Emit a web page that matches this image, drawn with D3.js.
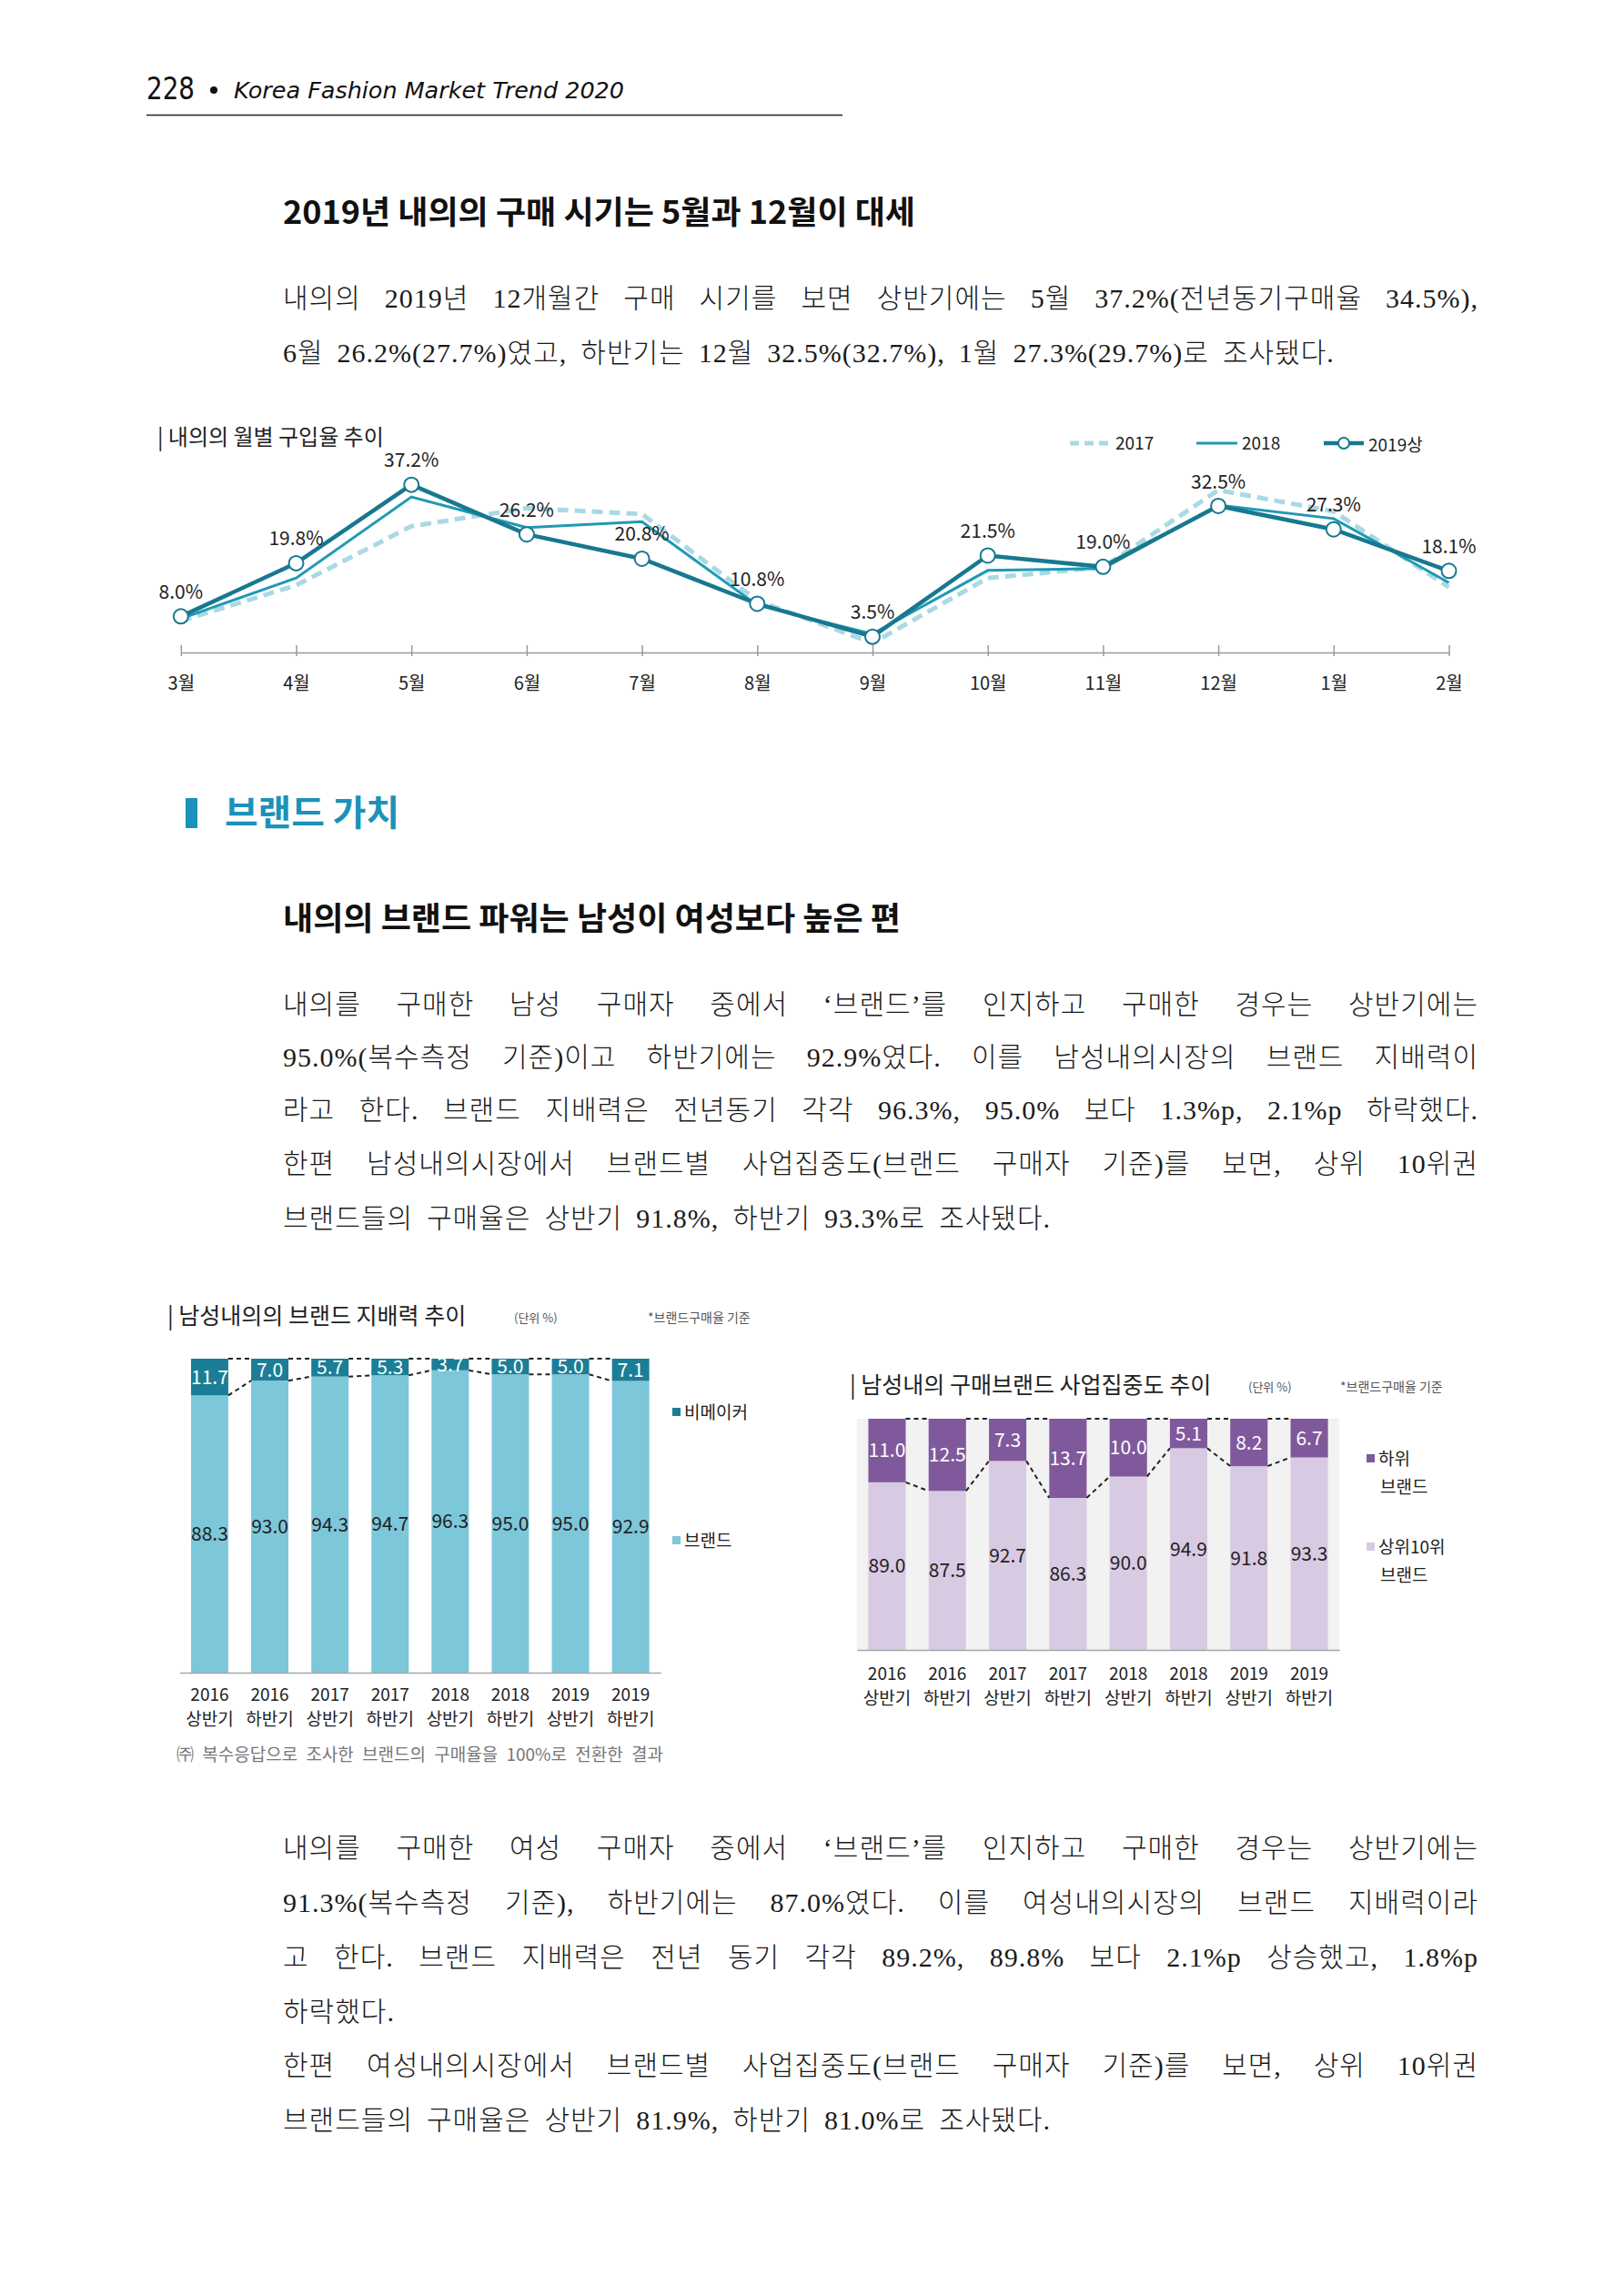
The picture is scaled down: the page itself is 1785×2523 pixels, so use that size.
<!DOCTYPE html>
<html>
<head>
<meta charset="utf-8">
<script src="https://cdn.jsdelivr.net/npm/d3@7"></script>
<style>
  body { margin: 0; background: #fff; }
  svg { display: block; }
</style>
</head>
<body>
<svg id="page"></svg>
<script>
// ---- data ----
const months = ["3월", "4월", "5월", "6월", "7월", "8월", "9월", "10월", "11월", "12월", "1월", "2월"];
const rate2017 = [7.0, 14.9, 28.0, 32.0, 30.7, 11.5, 2.1, 16.5, 18.9, 36.0, 31.3, 14.5];
const rate2018 = [7.5, 16.5, 34.5, 27.7, 29.0, 10.5, 4.1, 18.2, 18.6, 32.7, 29.7, 15.5];
const rate2019 = [8.0, 19.8, 37.2, 26.2, 20.8, 10.8, 3.5, 21.5, 19.0, 32.5, 27.3, 18.1];

const periodYears = ["2016", "2016", "2017", "2017", "2018", "2018", "2019", "2019"];
const periodHalves = ["상반기", "하반기", "상반기", "하반기", "상반기", "하반기", "상반기", "하반기"];

const brandShare = [88.3, 93.0, 94.3, 94.7, 96.3, 95.0, 95.0, 92.9];
const nonMakerShare = [11.7, 7.0, 5.7, 5.3, 3.7, 5.0, 5.0, 7.1];

const top10Share = [89.0, 87.5, 92.7, 86.3, 90.0, 94.9, 91.8, 93.3];
const lowerShare = [11.0, 12.5, 7.3, 13.7, 10.0, 5.1, 8.2, 6.7];

const para1 = [
  "내의의 2019년 12개월간 구매 시기를 보면 상반기에는 5월 37.2%(전년동기구매율 34.5%),",
  "6월 26.2%(27.7%)였고, 하반기는 12월 32.5%(32.7%), 1월 27.3%(29.7%)로 조사됐다."
];
const para2 = [
  "내의를 구매한 남성 구매자 중에서 ‘브랜드’를 인지하고 구매한 경우는 상반기에는",
  "95.0%(복수측정 기준)이고 하반기에는 92.9%였다. 이를 남성내의시장의 브랜드 지배력이",
  "라고 한다. 브랜드 지배력은 전년동기 각각 96.3%, 95.0% 보다 1.3%p, 2.1%p 하락했다.",
  "한편 남성내의시장에서 브랜드별 사업집중도(브랜드 구매자 기준)를 보면, 상위 10위권",
  "브랜드들의 구매율은 상반기 91.8%, 하반기 93.3%로 조사됐다."
];
const para3 = [
  "내의를 구매한 여성 구매자 중에서 ‘브랜드’를 인지하고 구매한 경우는 상반기에는",
  "91.3%(복수측정 기준), 하반기에는 87.0%였다. 이를 여성내의시장의 브랜드 지배력이라",
  "고 한다. 브랜드 지배력은 전년 동기 각각 89.2%, 89.8% 보다 2.1%p 상승했고, 1.8%p",
  "하락했다.",
  "한편 여성내의시장에서 브랜드별 사업집중도(브랜드 구매자 기준)를 보면, 상위 10위권",
  "브랜드들의 구매율은 상반기 81.9%, 하반기 81.0%로 조사됐다."
];

const KR = "'Noto Sans CJK KR', 'Noto Sans', sans-serif";
const BODY = "'Liberation Serif', 'Noto Sans CJK KR', serif";

const svg = d3.select("#page").attr("width", 1785).attr("height", 2523);
svg.append("rect").attr("width", 1785).attr("height", 2523).attr("fill", "#fff");

// ---- page header ----
svg.append("text").attr("x", 161).attr("y", 109)
  .attr("font-family", "'Liberation Sans Narrow', 'DejaVu Sans', sans-serif")
  .attr("font-size", 33).attr("fill", "#111")
  .attr("textLength", 53).attr("lengthAdjust", "spacingAndGlyphs").text("228");
svg.append("circle").attr("cx", 235).attr("cy", 99).attr("r", 4).attr("fill", "#111");
svg.append("text").attr("x", 257).attr("y", 108)
  .attr("font-family", "'DejaVu Sans', sans-serif").attr("font-style", "italic")
  .attr("font-size", 25).attr("fill", "#111")
  .attr("textLength", 429).attr("lengthAdjust", "spacingAndGlyphs")
  .text("Korea Fashion Market Trend 2020");
svg.append("line").attr("x1", 161).attr("x2", 926).attr("y1", 126.5).attr("y2", 126.5)
  .attr("stroke", "#222").attr("stroke-width", 1.6);

// ---- headings ----
function heading(str, y, w) {
  svg.append("text").attr("x", 311).attr("y", y).attr("dy", "0.36em")
    .attr("font-family", KR).attr("font-weight", 700).attr("font-size", 35)
    .attr("textLength", w).attr("lengthAdjust", "spacingAndGlyphs")
    .attr("fill", "#111").text(str);
}
heading("2019년 내의의 구매 시기는 5월과 12월이 대세", 233, 695);
heading("내의의 브랜드 파워는 남성이 여성보다 높은 편", 1009, 679);

svg.append("rect").attr("x", 204).attr("y", 877).attr("width", 13).attr("height", 33).attr("fill", "#1a92b9");
svg.append("text").attr("x", 247).attr("y", 893).attr("dy", "0.36em")
  .attr("font-family", KR).attr("font-weight", 700).attr("font-size", 39)
  .attr("textLength", 192).attr("lengthAdjust", "spacingAndGlyphs")
  .attr("fill", "#1a92b9").text("브랜드 가치");

// ---- body paragraphs (word-justified lines) ----
function paragraph(lines, ys, justifyFlags) {
  const g = svg.append("g").attr("font-family", BODY).attr("font-size", 30)
    .attr("letter-spacing", 1).attr("font-weight", 300).attr("fill", "#1a1a1a");
  lines.forEach((str, li) => {
    const words = str.split(" ").filter(w => w.length);
    const nodes = words.map(w => g.append("text").attr("y", ys[li]).attr("dy", "0.36em").text(w));
    const widths = nodes.map(n => n.node().getComputedTextLength());
    const total = d3.sum(widths);
    const gap = justifyFlags[li] && words.length > 1 ? (1625 - 311 - total) / (words.length - 1) : 15;
    let cx = 311;
    nodes.forEach((n, i) => { n.attr("x", cx); cx += widths[i] + gap; });
  });
}
paragraph(para1, [327, 387], [true, false]);
paragraph(para2, [1103, 1161, 1219, 1278, 1338], [true, true, true, true, false]);
paragraph(para3, [2030, 2090, 2150, 2210, 2269, 2329], [true, true, true, false, true, false]);

// ---- line chart ----
const lc = svg.append("g");
const x = d3.scalePoint().domain(months).range([198.8, 1592.5]);
const y = d3.scaleLinear().domain([0, 40]).range([717, 518.8]);

lc.append("text").attr("x", 173).attr("y", 480).attr("dy", "0.36em")
  .attr("font-family", KR).attr("font-size", 24).attr("fill", "#222").text("| 내의의 월별 구입율 추이");

const axis = lc.append("g").attr("transform", "translate(0,717)")
  .call(d3.axisBottom(x).tickSizeInner(-8).tickSizeOuter(0).tickPadding(27));
axis.select(".domain").attr("stroke", "#9a9a9a").attr("stroke-width", 1.5);
axis.selectAll(".tick line").attr("stroke", "#9a9a9a").attr("stroke-width", 1.5)
  .attr("y1", 4);
axis.selectAll(".tick text").attr("font-family", KR).attr("font-size", 20).attr("fill", "#222");

const line = d3.line().x((d, i) => x(months[i])).y(d => y(d));
lc.append("path").datum(rate2017).attr("d", line).attr("fill", "none")
  .attr("stroke", "#a9d9e4").attr("stroke-width", 5).attr("stroke-dasharray", "12,7");
lc.append("path").datum(rate2018).attr("d", line).attr("fill", "none")
  .attr("stroke", "#1e9ab4").attr("stroke-width", 3);
lc.append("path").datum(rate2019).attr("d", line).attr("fill", "none")
  .attr("stroke", "#17788f").attr("stroke-width", 4.5);
lc.selectAll("circle.p19").data(rate2019).enter().append("circle")
  .attr("class", "p19")
  .attr("cx", (d, i) => x(months[i])).attr("cy", d => y(d)).attr("r", 8)
  .attr("fill", "#fff").attr("stroke", "#17788f").attr("stroke-width", 2);
lc.selectAll("text.lbl").data(rate2019).enter().append("text")
  .attr("class", "lbl")
  .attr("x", (d, i) => x(months[i])).attr("y", d => y(d) - 27).attr("dy", "0.36em")
  .attr("text-anchor", "middle").attr("font-family", KR).attr("font-size", 21)
  .attr("fill", "#222").text(d => d.toFixed(1) + "%");

// legend
const lg = lc.append("g").attr("font-family", KR).attr("font-size", 19).attr("fill", "#222");
lg.append("line").attr("x1", 1176).attr("x2", 1218).attr("y1", 487).attr("y2", 487)
  .attr("stroke", "#a9d9e4").attr("stroke-width", 5).attr("stroke-dasharray", "10,6");
lg.append("text").attr("x", 1226).attr("y", 487).attr("dy", "0.36em").text("2017");
lg.append("line").attr("x1", 1315).attr("x2", 1360).attr("y1", 487).attr("y2", 487)
  .attr("stroke", "#1e9ab4").attr("stroke-width", 3);
lg.append("text").attr("x", 1365).attr("y", 487).attr("dy", "0.36em").text("2018");
lg.append("line").attr("x1", 1455).attr("x2", 1499).attr("y1", 487).attr("y2", 487)
  .attr("stroke", "#17788f").attr("stroke-width", 4.5);
lg.append("circle").attr("cx", 1477).attr("cy", 487).attr("r", 6)
  .attr("fill", "#fff").attr("stroke", "#17788f").attr("stroke-width", 2);
lg.append("text").attr("x", 1504).attr("y", 489).attr("dy", "0.36em").text("2019상");

// ---- stacked bar charts ----
function stackedChart(opt) {
  const g = svg.append("g");
  const periods = periodYears.map((yr, i) => yr + " " + periodHalves[i]);
  const xb = d3.scaleBand().domain(periods).range(opt.xRange).paddingInner(0.38).paddingOuter(0.19);
  const yb = d3.scaleLinear().domain(opt.yDomain).range(opt.yRange);
  const bw = xb.bandwidth();

  if (opt.panel) {
    g.append("rect").attr("x", opt.xRange[0]).attr("y", yb(100))
      .attr("width", opt.xRange[1] - opt.xRange[0]).attr("height", yb(opt.yDomain[0]) - yb(100))
      .attr("fill", opt.panel);
  }

  // lower segments
  g.selectAll("rect.low").data(opt.low).enter().append("rect").attr("class", "low")
    .attr("x", (d, i) => xb(periods[i])).attr("width", bw)
    .attr("y", d => yb(d)).attr("height", d => yb(opt.yDomain[0]) - yb(d))
    .attr("fill", opt.lowColor);
  // upper segments
  g.selectAll("rect.up").data(opt.up).enter().append("rect").attr("class", "up")
    .attr("x", (d, i) => xb(periods[i])).attr("width", bw)
    .attr("y", (d, i) => yb(opt.low[i] + d)).attr("height", (d, i) => yb(opt.low[i]) - yb(opt.low[i] + d))
    .attr("fill", opt.upColor);

  // dashed connectors
  const conn = d3.range(opt.low.length - 1);
  g.selectAll("line.ctop").data(conn).enter().append("line").attr("class", "ctop")
    .attr("x1", i => xb(periods[i]) + bw).attr("x2", i => xb(periods[i + 1]))
    .attr("y1", yb(100)).attr("y2", yb(100))
    .attr("stroke", "#222").attr("stroke-width", 2).attr("stroke-dasharray", "5,4");
  g.selectAll("line.cmid").data(conn).enter().append("line").attr("class", "cmid")
    .attr("x1", i => xb(periods[i]) + bw).attr("x2", i => xb(periods[i + 1]))
    .attr("y1", i => yb(opt.low[i])).attr("y2", i => yb(opt.low[i + 1]))
    .attr("stroke", "#222").attr("stroke-width", 2).attr("stroke-dasharray", "5,4");

  // baseline axis
  const ax = g.append("g").attr("transform", `translate(0,${yb(opt.yDomain[0])})`)
    .call(d3.axisBottom(xb).tickSize(0).tickPadding(0).tickFormat(""));
  ax.select(".domain").attr("stroke", "#a6a6a6").attr("stroke-width", 1.5);
  ax.selectAll(".tick").each(function(d, i) {
    const t = d3.select(this);
    t.append("text").attr("y", opt.labelY[0] - yb(opt.yDomain[0])).attr("dy", "0.36em")
      .attr("font-family", KR).attr("font-size", 19).attr("fill", "#222").text(periodYears[i]);
    t.append("text").attr("y", opt.labelY[1] - yb(opt.yDomain[0])).attr("dy", "0.36em")
      .attr("font-family", KR).attr("font-size", 19).attr("fill", "#222").text(periodHalves[i]);
  });

  // value labels
  g.selectAll("text.vlow").data(opt.low).enter().append("text").attr("class", "vlow")
    .attr("x", (d, i) => xb(periods[i]) + bw / 2)
    .attr("y", d => (yb(d) + yb(opt.yDomain[0])) / 2).attr("dy", "0.36em")
    .attr("text-anchor", "middle").attr("font-family", KR).attr("font-size", 21)
    .attr("fill", "#222").text(d => d.toFixed(1));
  g.selectAll("text.vup").data(opt.up).enter().append("text").attr("class", "vup")
    .attr("x", (d, i) => xb(periods[i]) + bw / 2)
    .attr("y", (d, i) => (yb(opt.low[i]) + yb(100)) / 2).attr("dy", "0.36em")
    .attr("text-anchor", "middle").attr("font-family", KR).attr("font-size", 21)
    .attr("fill", "#fff").text(d => d.toFixed(1));

  // titles
  g.append("text").attr("x", opt.title[1]).attr("y", opt.title[2]).attr("dy", "0.36em")
    .attr("font-family", KR).attr("font-size", 25).attr("fill", "#222").text(opt.title[0]);
  g.append("text").attr("x", opt.unitX).attr("y", opt.title[2] + 2).attr("dy", "0.36em")
    .attr("font-family", KR).attr("font-size", 13).attr("fill", "#555").text("(단위 %)");
  g.append("text").attr("x", opt.noteX).attr("y", opt.title[2] + 2).attr("dy", "0.36em")
    .attr("font-family", KR).attr("font-size", 14).attr("fill", "#555").text("*브랜드구매율 기준");

  // legend
  opt.legend.forEach(l => {
    g.append("rect").attr("x", opt.legendX).attr("y", l.y - 5).attr("width", 9).attr("height", 9)
      .attr("fill", l.color);
    l.lines.forEach((s, k) => {
      g.append("text").attr("x", opt.legendX + (k === 0 ? 13 : 15)).attr("y", l.y + k * 31)
        .attr("dy", "0.36em").attr("font-family", KR).attr("font-size", 19)
        .attr("fill", "#222").text(s);
    });
  });
  return g;
}

const c1 = stackedChart({
  xRange: [197.4, 726.2], yDomain: [0, 100], yRange: [1838, 1493],
  low: brandShare, up: nonMakerShare, lowColor: "#7dc7db", upColor: "#1b7e96",
  labelY: [1862, 1889],
  title: ["| 남성내의의 브랜드 지배력 추이", 184, 1446], unitX: 565, noteX: 712,
  legendX: 739,
  legend: [{ y: 1552, color: "#1b7e96", lines: ["비메이커"] },
           { y: 1693, color: "#7dc7db", lines: ["브랜드"] }]
});
c1.append("text").attr("x", 194).attr("y", 1928).attr("dy", "0.36em")
  .attr("font-family", KR).attr("font-size", 19).attr("fill", "#777")
  .attr("word-spacing", 5)
  .text("㈜ 복수응답으로 조사한 브랜드의 구매율을 100%로 전환한 결과");

stackedChart({
  xRange: [941.8, 1472.2], yDomain: [60, 100], yRange: [1813, 1559],
  low: top10Share, up: lowerShare, lowColor: "#d9cae3", upColor: "#80599c",
  panel: "#f2f2f2",
  labelY: [1839, 1866],
  title: ["| 남성내의 구매브랜드 사업집중도 추이", 934, 1522], unitX: 1372, noteX: 1473,
  legendX: 1502,
  legend: [{ y: 1603, color: "#80599c", lines: ["하위", "브랜드"] },
           { y: 1700, color: "#d9cae3", lines: ["상위10위", "브랜드"] }]
});
</script>
</body>
</html>
